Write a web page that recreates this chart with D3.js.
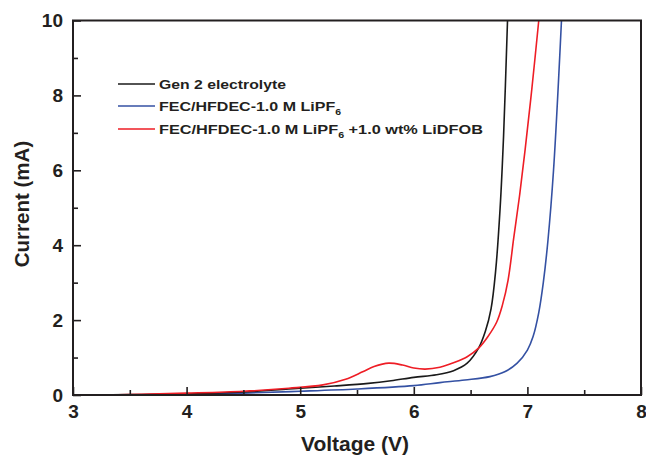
<!DOCTYPE html>
<html>
<head>
<meta charset="utf-8">
<script src="https://cdn.jsdelivr.net/npm/d3@7"></script>
<style>
  body { margin: 0; background: #fff; }
  text { font-family: "Liberation Sans", Arial, sans-serif; font-weight: bold; fill: #231f20; }
</style>
</head>
<body>
<div id="chart"></div>
<script>
// Gen 2 electrolyte
var genV = [3.1, 3.5, 4.0, 4.5, 5.0, 5.3, 5.6, 5.8, 6.0, 6.2, 6.35, 6.47, 6.57, 6.63, 6.68, 6.72, 6.76, 6.79, 6.825];
var genI = [0, 0.01, 0.03, 0.08, 0.18, 0.24, 0.31, 0.38, 0.47, 0.54, 0.65, 0.85, 1.25, 1.7, 2.3, 3.3, 5.0, 6.9, 10];
// FEC/HFDEC-1.0 M LiPF6
var fecV = [3.45, 4.0, 4.5, 5.0, 5.5, 6.0, 6.23, 6.45, 6.67, 6.8, 6.91, 7.0, 7.05, 7.1, 7.14, 7.18, 7.23, 7.3];
var fecI = [0, 0.02, 0.05, 0.1, 0.16, 0.25, 0.33, 0.4, 0.49, 0.62, 0.85, 1.2, 1.56, 2.2, 3.0, 4.1, 6.0, 10];
// FEC/HFDEC-1.0 M LiPF6 + 1.0 wt% LiDFOB
var dfobV = [3.3, 3.6, 4.0, 4.5, 4.9, 5.2, 5.4, 5.55, 5.65, 5.78, 5.9, 6.0, 6.1, 6.23, 6.35, 6.47, 6.57, 6.65, 6.73, 6.78, 6.83, 6.88, 6.93, 6.98, 7.04, 7.1];
var dfobI = [0, 0.02, 0.05, 0.1, 0.18, 0.27, 0.42, 0.62, 0.76, 0.85, 0.8, 0.72, 0.69, 0.74, 0.86, 1.02, 1.25, 1.55, 1.95, 2.4, 3.07, 4.2, 5.3, 6.55, 8.2, 10];

var xTicks = [3, 4, 5, 6, 7, 8];
var xMinor = [3.5, 4.5, 5.5, 6.5, 7.5];
var yTicks = [0, 2, 4, 6, 8, 10];
var yMinor = [1, 3, 5, 7, 9];

var seriesNames = ["Gen 2 electrolyte", "FEC/HFDEC-1.0 M LiPF", "FEC/HFDEC-1.0 M LiPF"];
var seriesColors = ["#1a1a1a", "#3451a3", "#ee1d25"];

var width = 646;
var height = 457;
var padL = 73, padR = 641, padT = 20.5, padB = 395;

var svg = d3.select("#chart")
  .append("svg")
  .attr("width", width)
  .attr("height", height);

var xScale = d3.scaleLinear().domain([3, 8]).range([padL, padR]);
var yScale = d3.scaleLinear().domain([0, 10]).range([padB, padT]);

// curves, clipped to the frame
svg.append("clipPath").attr("id", "clip")
  .append("rect")
  .attr("x", padL).attr("y", padT)
  .attr("width", padR - padL).attr("height", padB - padT);

var line = d3.line()
  .x(function(d) { return xScale(d[0]); })
  .y(function(d) { return yScale(d[1]); })
  .curve(d3.curveCatmullRom.alpha(0.5));

var series = [
  d3.zip(genV, genI),
  d3.zip(fecV, fecI),
  d3.zip(dfobV, dfobI)
];

var curves = svg.append("g").attr("clip-path", "url(#clip)");
// blue first, then black, red on top
[1, 0, 2].forEach(function(i) {
  curves.append("path")
    .datum(series[i])
    .attr("d", line)
    .attr("fill", "none")
    .attr("stroke", seriesColors[i])
    .attr("stroke-width", 1.6);
});

// axes, ticks pointing inward
var fmt = d3.format("d");
var xAxis = d3.axisBottom(xScale).tickValues(xTicks).tickFormat(fmt).tickSizeInner(-8).tickSizeOuter(0).tickPadding(10);
var xAxisMinor = d3.axisBottom(xScale).tickValues(xMinor).tickSizeInner(-5).tickSizeOuter(0).tickFormat("");
var yAxis = d3.axisLeft(yScale).tickValues(yTicks).tickFormat(fmt).tickSizeInner(-8).tickSizeOuter(0).tickPadding(10);
var yAxisMinor = d3.axisLeft(yScale).tickValues(yMinor).tickSizeInner(-5).tickSizeOuter(0).tickFormat("");

function styleAxis(g) {
  g.select(".domain").remove();
  g.selectAll("line").attr("stroke", "#231f20").attr("stroke-width", 1.6);
  g.selectAll("text")
    .attr("font-size", 19)
    .attr("font-family", "'Liberation Sans', Arial, sans-serif")
    .attr("font-weight", "bold")
    .attr("fill", "#231f20");
}

svg.append("g").attr("transform", "translate(0," + padB + ")").call(xAxis).call(styleAxis);
svg.append("g").attr("transform", "translate(0," + padB + ")").call(xAxisMinor).call(styleAxis);
svg.append("g").attr("transform", "translate(" + padL + ",0)").call(yAxis).call(styleAxis);
svg.append("g").attr("transform", "translate(" + padL + ",0)").call(yAxisMinor).call(styleAxis);

// frame
svg.append("rect")
  .attr("x", padL).attr("y", padT)
  .attr("width", padR - padL).attr("height", padB - padT)
  .attr("fill", "none")
  .attr("stroke", "#231f20")
  .attr("stroke-width", 2);

// axis titles
svg.append("text")
  .attr("x", 355)
  .attr("y", 451)
  .attr("text-anchor", "middle")
  .attr("font-size", 21)
  .text("Voltage (V)");

svg.append("text")
  .attr("transform", "translate(29," + 204 + ")rotate(-90)")
  .attr("text-anchor", "middle")
  .attr("font-size", 20.5)
  .text("Current (mA)");

// legend (text is a bit stretched in the original)
var legendY = [84, 106, 129];
var legendLen = [127, 182, 324];
var legend = svg.append("g");
seriesNames.forEach(function(name, i) {
  legend.append("line")
    .attr("x1", 118).attr("x2", 155)
    .attr("y1", legendY[i]).attr("y2", legendY[i])
    .attr("stroke", seriesColors[i])
    .attr("stroke-width", 1.6);
  var t = legend.append("text")
    .attr("x", 159)
    .attr("y", legendY[i] + 4.5)
    .attr("font-size", 13)
    .attr("textLength", legendLen[i])
    .attr("lengthAdjust", "spacingAndGlyphs")
    .text(name);
  if (i > 0) {
    t.append("tspan").attr("dy", 4).attr("font-size", 8.5).text("6");
    if (i === 2) {
      t.append("tspan").attr("dy", -4).text(" +1.0 wt% LiDFOB");
    }
  }
});
</script>
</body>
</html>
